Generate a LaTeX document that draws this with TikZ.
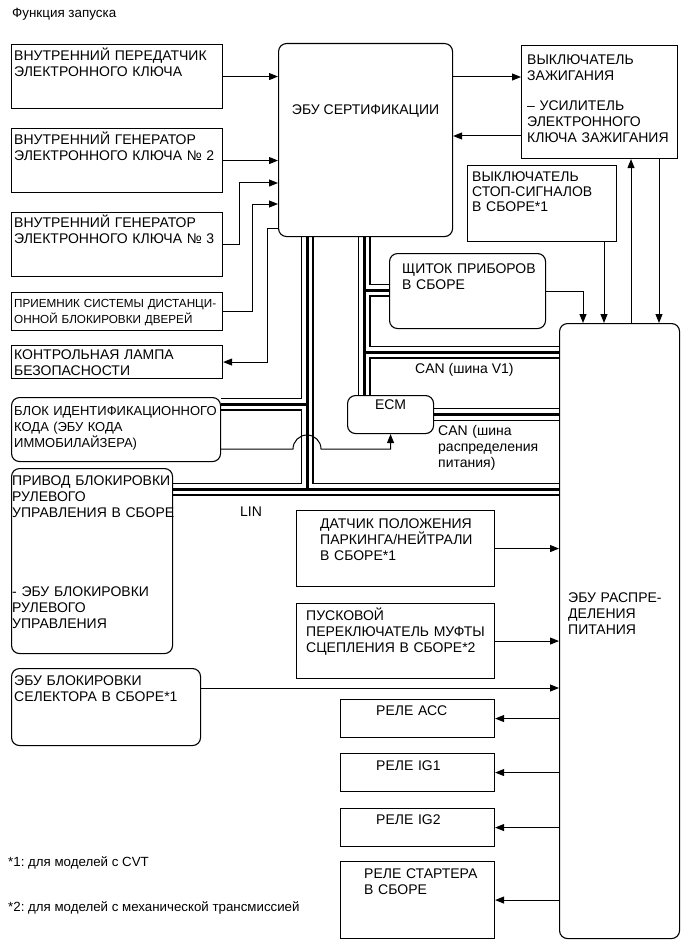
\documentclass[tikz,border=0pt]{standalone}
\usepackage{fontspec}
\setmainfont{Liberation Sans}
\usetikzlibrary{arrows.meta, backgrounds, calc}
\frenchspacing
\newcommand\boxfont{\fontsize{14}{16}\selectfont}
\newcommand\smallboxfont{\fontsize{11.7}{16}\selectfont}
\newcommand\notefont{\fontsize{13.3}{15}\selectfont}
\tikzset{
    blk/.style={draw, rectangle, line width=1.1pt, anchor=north west, inner sep=0pt},
    rblk/.style={blk, rounded corners=8pt},
    txt/.style={anchor=base west, align=left, text width=250pt, inner sep=0pt, font=\boxfont},
    lbl/.style={inner sep=0pt, font=\boxfont},
    arr/.style={line width=1pt, -{Triangle[length=9pt, width=7pt]}}
}

\begin{document}
\begin{tikzpicture}[x=1pt, y=-1pt]
    \useasboundingbox (0,0) rectangle (690,952);

    \node[lbl, anchor=base west, font=\fontsize{13.4}{15}\selectfont] (title) at (12,18) {Функция запуска};

    % ---------- left column ----------
    \node[blk, minimum width=211pt, minimum height=64pt] (tx) at (11,44) {};
    \node[txt] (tx-t) at ([shift={(3,17)}]tx.north west) {ВНУТРЕННИЙ ПЕРЕДАТЧИК\\ЭЛЕКТРОННОГО КЛЮЧА};

    \node[blk, minimum width=211pt, minimum height=64pt] (gen2) at (11,128) {};
    \node[txt] (gen2-t) at ([shift={(3,17)}]gen2.north west) {ВНУТРЕННИЙ ГЕНЕРАТОР\\ЭЛЕКТРОННОГО КЛЮЧА № 2};

    \node[blk, minimum width=211pt, minimum height=64pt] (gen3) at (11,212) {};
    \node[txt] (gen3-t) at ([shift={(3,15)}]gen3.north west) {ВНУТРЕННИЙ ГЕНЕРАТОР\\ЭЛЕКТРОННОГО КЛЮЧА № 3};

    \node[blk, minimum width=211pt, minimum height=38pt] (rke) at (11,292) {};
    \node[txt, font=\smallboxfont] (rke-t) at ([shift={(3,15)}]rke.north west) {ПРИЕМНИК СИСТЕМЫ ДИСТАНЦИ-\\ОННОЙ БЛОКИРОВКИ ДВЕРЕЙ};

    \node[blk, minimum width=211pt, minimum height=33pt] (lamp) at (11,345) {};
    \node[txt] (lamp-t) at ([shift={(3,14)}]lamp.north west) {КОНТРОЛЬНАЯ ЛАМПА\\БЕЗОПАСНОСТИ};

    \node[rblk, minimum width=209pt, minimum height=64pt] (idbox) at (11,397) {};
    \node[txt, font=\fontsize{13}{16}\selectfont] (idbox-t) at ([shift={(3,18)}]idbox.north west) {БЛОК ИДЕНТИФИКАЦИОННОГО\\КОДА (ЭБУ КОДА\\ИММОБИЛАЙЗЕРА)};

    \node[rblk, minimum width=161pt, minimum height=185pt] (steer) at (11,468) {};
    \node[txt] (steer-t) at ([shift={(1,17)}]steer.north west) {ПРИВОД БЛОКИРОВКИ\\РУЛЕВОГО\\УПРАВЛЕНИЯ В СБОРЕ\\[63pt]- ЭБУ БЛОКИРОВКИ\\РУЛЕВОГО\\УПРАВЛЕНИЯ};

    \node[rblk, minimum width=189pt, minimum height=77pt] (sel) at (11,668) {};
    \node[txt] (sel-t) at ([shift={(3,17)}]sel.north west) {ЭБУ БЛОКИРОВКИ\\СЕЛЕКТОРА В СБОРЕ*1};

    % ---------- middle ----------
    \node[rblk, minimum width=174pt, minimum height=193pt] (cert) at (278,43) {};
    \node[lbl] (cert-t) at ([shift={(0,68)}]cert.north) {ЭБУ СЕРТИФИКАЦИИ};

    \node[rblk, minimum width=156pt, minimum height=75pt] (meter) at (389,253) {};
    \node[txt] (meter-t) at ([shift={(13,20)}]meter.north west) {ЩИТОК ПРИБОРОВ\\В СБОРЕ};

    \node[rblk, minimum width=86pt, minimum height=38pt] (ecm) at (347,395) {};
    \node[lbl] (ecm-t) at ([shift={(0,10)}]ecm.north) {ECM};

    \node[blk, minimum width=198pt, minimum height=76pt] (pns) at (296,510) {};
    \node[txt] (pns-t) at ([shift={(24,18)}]pns.north west) {ДАТЧИК ПОЛОЖЕНИЯ\\ПАРКИНГА/НЕЙТРАЛИ\\В СБОРЕ*1};

    \node[blk, minimum width=198pt, minimum height=75pt] (clutch) at (296,603) {};
    \node[txt] (clutch-t) at ([shift={(10,17)}]clutch.north west) {ПУСКОВОЙ\\ПЕРЕКЛЮЧАТЕЛЬ МУФТЫ\\СЦЕПЛЕНИЯ В СБОРЕ*2};

    \node[blk, minimum width=154pt, minimum height=38pt] (acc) at (340,699) {};
    \node[txt] (acc-t) at ([shift={(36,16)}]acc.north west) {РЕЛЕ АСС};

    \node[blk, minimum width=154pt, minimum height=38pt] (ig1) at (340,753) {};
    \node[txt] (ig1-t) at ([shift={(36,17)}]ig1.north west) {РЕЛЕ IG1};

    \node[blk, minimum width=154pt, minimum height=38pt] (ig2) at (340,808) {};
    \node[txt] (ig2-t) at ([shift={(36,16)}]ig2.north west) {РЕЛЕ IG2};

    \node[blk, minimum width=154pt, minimum height=77pt] (starter) at (340,861) {};
    \node[txt] (starter-t) at ([shift={(24,17)}]starter.north west) {РЕЛЕ СТАРТЕРА\\В СБОРЕ};

    % ---------- right column ----------
    \node[blk, minimum width=156pt, minimum height=113pt] (ign) at (521,45) {};
    \node[txt] (ign-t) at ([shift={(6,20)}]ign.north west) {ВЫКЛЮЧАТЕЛЬ\\ЗАЖИГАНИЯ\\[14pt]– УСИЛИТЕЛЬ\\ЭЛЕКТРОННОГО\\КЛЮЧА ЗАЖИГАНИЯ};

    \node[blk, minimum width=149pt, minimum height=76pt] (stop) at (467,165) {};
    \node[txt, font=\fontsize{14}{15}\selectfont] (stop-t) at ([shift={(5,17)}]stop.north west) {ВЫКЛЮЧАТЕЛЬ\\СТОП-СИГНАЛОВ\\В СБОРЕ*1};

    \node[rblk, minimum width=120pt, minimum height=615pt] (pdu) at (559,323) {};
    \node[txt] (pdu-t) at ([shift={(9,279)}]pdu.north west) {ЭБУ РАСПРЕ-\\ДЕЛЕНИЯ\\ПИТАНИЯ};

    % ---------- bus labels and notes ----------
    \node[lbl, anchor=west] (canv1) at (415,370) {CAN (шина V1)};
    \node[txt] (canpd) at (438,435) {CAN (шина\\распределения\\питания)};
    \node[lbl] (lin) at (251,512) {LIN};
    \node[lbl, anchor=base west, font=\notefont] (note1) at (8,866) {*1: для моделей с CVT};
    \node[lbl, anchor=base west, font=\notefont] (note2) at (8,911) {*2: для моделей с механической трансмиссией};

    % ---------- bend points ----------
    \coordinate (k3) at (239,183);
    \coordinate (k4) at (252,204);
    \coordinate (k5) at (267,228);
    \coordinate (r1) at (0,77);
    \coordinate (r2) at (0,136);
    \coordinate (p1) at (583,0);
    \coordinate (p2) at (604,0);
    \coordinate (p3) at (631,0);
    \coordinate (p4) at (659,0);
    \coordinate (r3) at (0,688);
    \coordinate (hop) at (307,449);
    \coordinate (jA) at (307,489);
    \coordinate (jid) at (307,404);
    \coordinate (jB) at (364,352);
    \coordinate (jM) at (364,290);

    % ---------- buses ----------
    \begin{pgfonlayer}{background}
        \foreach \w/\c in {13pt/black, 10.5pt/white, 3pt/black}{
            \draw[line width=\w, \c] (cert.south -| jA) -- (jA);
            \draw[line width=\w, \c] (idbox.east |- jid) -- (jid);
            \draw[line width=\w, \c] (steer.east |- jA) -- (pdu.west |- jA);
            \draw[line width=\w, \c] (cert.south -| jB) -- (ecm.north -| jB);
            \draw[line width=\w, \c] (jM) -- (meter.west |- jM);
            \draw[line width=\w, \c] (jB) -- (pdu.west |- jB);
            \draw[line width=\w, \c] (ecm.east) -- (pdu.west |- ecm.east);
        }
    \end{pgfonlayer}

    % ---------- signal lines ----------
    \draw[arr] (tx.east) -- (cert.west |- tx.east);
    \draw[arr] (gen2.east) -- (cert.west |- gen2.east);
    \draw[arr] (gen3.east) -| (k3) -- (cert.west |- k3);
    \draw[arr] (rke.east) -| (k4) -- (cert.west |- k4);
    \draw[arr] (cert.west |- k5) -- (k5) |- (lamp.east);
    \draw[arr] (cert.east |- r1) -- (ign.west |- r1);
    \draw[arr] (ign.west |- r2) -- (cert.east |- r2);
    \draw[arr] (idbox.east |- hop) -- ([xshift=-14pt]hop) arc[start angle=180, end angle=0, radius=14pt] -- (hop -| ecm.south) -- (ecm.south);

    \draw[arr] (meter.east) -| (pdu.north -| p1);
    \draw[arr] (stop.south -| p2) -- (pdu.north -| p2);
    \draw[arr] (pdu.north -| p3) -- (ign.south -| p3);
    \draw[arr] (ign.south -| p4) -- (pdu.north -| p4);

    \draw[arr] (pns.east) -- (pdu.west |- pns.east);
    \draw[arr] (clutch.east) -- (pdu.west |- clutch.east);
    \draw[arr] (sel.east |- r3) -- (pdu.west |- r3);
    \draw[arr] (pdu.west |- acc.east) -- (acc.east);
    \draw[arr] (pdu.west |- ig1.east) -- (ig1.east);
    \draw[arr] (pdu.west |- ig2.east) -- (ig2.east);
    \draw[arr] (pdu.west |- starter.east) -- (starter.east);
\end{tikzpicture}
\end{document}
